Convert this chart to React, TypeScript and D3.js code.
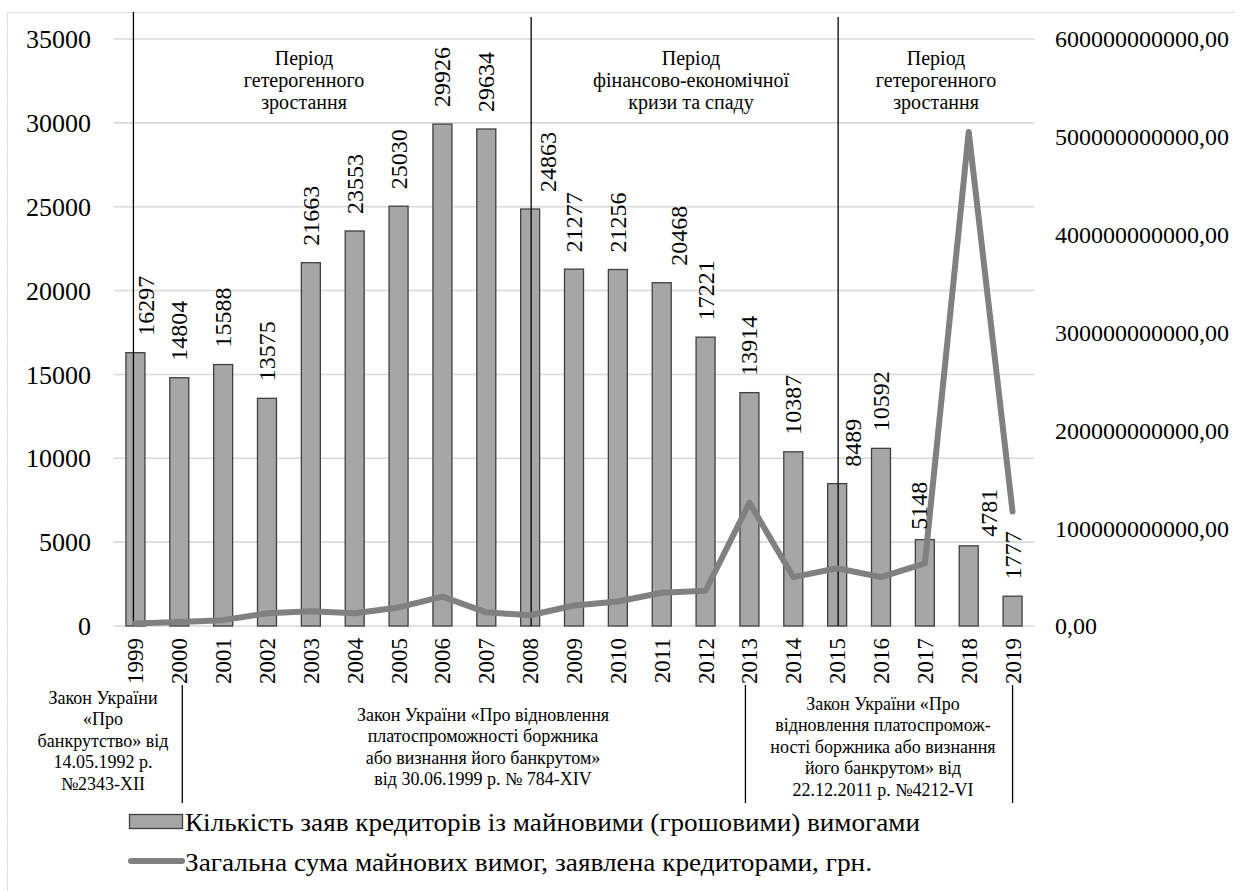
import * as d3 from 'd3';

const years = ['1999', '2000', '2001', '2002', '2003', '2004', '2005', '2006', '2007', '2008', '2009',
  '2010', '2011', '2012', '2013', '2014', '2015', '2016', '2017', '2018', '2019'];

// Кількість заяв кредиторів
const claimsCount = [16297, 14804, 15588, 13575, 21663, 23553, 25030, 29926, 29634, 24863, 21277,
  21256, 20468, 17221, 13914, 10387, 8489, 10592, 5148, 4781, 1777];

// Загальна сума майнових вимог, млрд грн (оцінка з графіка)
const claimsSumBn = [2.5, 4, 6, 13, 15, 13, 19, 30, 14, 11, 21,
  25, 34, 36, 126, 50, 59, 50, 64, 505, 117];

const leftTicks = [0, 5000, 10000, 15000, 20000, 25000, 30000, 35000];
const rightTicks = [0, 100e9, 200e9, 300e9, 400e9, 500e9, 600e9];

const legendLabels = [
  'Кількість заяв кредиторів із майновими (грошовими) вимогами',
  'Загальна сума майнових вимог, заявлена кредиторами, грн.',
];

const periods = [
  { lines: ['Період', 'гетерогенного', 'зростання'], cx: 304 },
  { lines: ['Період', 'фінансово-економічної', 'кризи та спаду'], cx: 691 },
  { lines: ['Період', 'гетерогенного', 'зростання'], cx: 936 },
];

const laws = [
  { lines: ['Закон України', '«Про', 'банкрутство» від', '14.05.1992 р.', '№2343-XII'], cx: 103, y0: 704 },
  {
    lines: ['Закон України «Про відновлення', 'платоспроможності боржника', 'або визнання його банкрутом»',
      'від 30.06.1999 р. № 784-XIV'], cx: 483, y0: 721,
  },
  {
    lines: ['Закон України «Про', 'відновлення платоспромож-', 'ності боржника або визнання',
      'його банкрутом» від', '22.12.2011 р. №4212-VI'], cx: 883, y0: 710,
  },
];

// vertical separators
const topDividers = [{ year: '1999', dx: -2, y1: 12 }, { year: '2008', dx: 1, y1: 17 }, { year: '2015', dx: 1, y1: 17 }];
const bottomDividers = [{ year: '2000', dx: 3 }, { year: '2013', dx: -4 }, { year: '2019', dx: 0 }];

// manual label nudges, like in the source document
const labelNudge: Record<string, [number, number]> = {
  '1999': [11, 0], '2008': [18, 0], '2011': [17, 0], '2015': [16, 0], '2017': [-6, 7], '2018': [20, 8],
};

const W = 1235;
const H = 891;
const plot = { left: 113.5, right: 1034.5, top: 39, bottom: 626 };
const serif = "'Liberation Serif', Tinos, 'Times New Roman', Times, serif";

export default function App() {
  const x = d3.scaleBand<string>().domain(years).range([plot.left, plot.right])
    .paddingInner(0.567).paddingOuter(0.567 / 2);
  const cx = (y: string) => (x(y) ?? 0) + x.bandwidth() / 2;
  const yL = d3.scaleLinear().domain([0, 35000]).range([plot.bottom, plot.top]);
  const yR = d3.scaleLinear().domain([0, 600e9]).range([plot.bottom, plot.top]);

  const fmtRight = d3.formatLocale({ decimal: ',', thousands: '', grouping: [3], currency: ['', ''] }).format('.2f');

  const line = d3.line<number>()
    .x((_, i) => cx(years[i]))
    .y(d => yR(d * 1e9));

  return (
    <svg width={W} height={H}
      style={{ position: 'absolute', left: 0, top: 0, display: 'block', background: '#fff', fontFamily: serif }}>
      <g style={{ fontFamily: serif }}>
        <rect x={7.5} y={12.5} width={W + 20} height={H + 20} fill="none" stroke="#d0d0d0" strokeDasharray="2,1" />

        {/* gridlines */}
        {leftTicks.map(t => (
          <line key={t} x1={plot.left} x2={plot.right} y1={yL(t)} y2={yL(t)} stroke="#d9d9d9" strokeWidth={1.6} />
        ))}

        {/* left axis labels */}
        {leftTicks.map(t => (
          <text key={t} x={91} y={yL(t)} dy="0.35em" textAnchor="end" fontSize={26}>{t}</text>
        ))}
        {/* right axis labels */}
        {rightTicks.map(t => (
          <text key={t} x={1055} y={yR(t)} dy="0.35em" textAnchor="start" fontSize={24}>{fmtRight(t)}</text>
        ))}

        {/* bars */}
        {years.map((yr, i) => (
          <rect key={yr} x={x(yr)} y={yL(claimsCount[i])} width={x.bandwidth()}
            height={plot.bottom - yL(claimsCount[i])} fill="#a6a6a6" stroke="#404040" strokeWidth={1.3} />
        ))}

        {/* period dividers */}
        {topDividers.map(d => (
          <line key={d.year} x1={cx(d.year) + d.dx} x2={cx(d.year) + d.dx} y1={d.y1} y2={plot.bottom}
            stroke="#000" strokeWidth={1.3} />
        ))}

        {/* line series */}
        <path d={line(claimsSumBn) ?? ''} fill="none" stroke="#808080" strokeWidth={6}
          strokeLinejoin="round" strokeLinecap="round" />

        {/* data labels */}
        {years.map((yr, i) => {
          const [nx, ny] = labelNudge[yr] ?? [0, 0];
          const lx = cx(yr) + nx + 8;
          const ly = yL(claimsCount[i]) - 17 + ny;
          return (
            <text key={yr} transform={`translate(${lx},${ly}) rotate(-90)`} fontSize={24} textAnchor="start">
              {claimsCount[i]}
            </text>
          );
        })}

        {/* x axis labels */}
        {years.map(yr => (
          <text key={yr} transform={`translate(${cx(yr) + 8},${638}) rotate(-90)`} fontSize={23} textAnchor="end">
            {yr}
          </text>
        ))}

        {/* period titles */}
        {periods.map((p, i) => (
          <text key={i} textAnchor="middle" fontSize={20}>
            {p.lines.map((l, j) => <tspan key={j} x={p.cx} y={65 + j * 22}>{l}</tspan>)}
          </text>
        ))}

        {/* bottom law annotations */}
        {bottomDividers.map(d => (
          <line key={d.year} x1={cx(d.year) + d.dx} x2={cx(d.year) + d.dx} y1={685} y2={803}
            stroke="#000" strokeWidth={1.3} />
        ))}
        {laws.map((l, i) => (
          <text key={i} textAnchor="middle" fontSize={18}>
            {l.lines.map((s, j) => <tspan key={j} x={l.cx} y={l.y0 + j * 21.4}>{s}</tspan>)}
          </text>
        ))}

        {/* legend */}
        <rect x={129.5} y={814.5} width={53} height={14} fill="#a6a6a6" stroke="#404040" strokeWidth={1.3} />
        <text x={185} y={822} dy="0.35em" fontSize={26} textLength={735} lengthAdjust="spacingAndGlyphs">
          {legendLabels[0]}
        </text>
        <line x1={131} x2={182} y1={861} y2={861} stroke="#808080" strokeWidth={6} strokeLinecap="round" />
        <text x={185} y={862} dy="0.35em" fontSize={26} textLength={687} lengthAdjust="spacingAndGlyphs">
          {legendLabels[1]}
        </text>
      </g>
    </svg>
  );
}
